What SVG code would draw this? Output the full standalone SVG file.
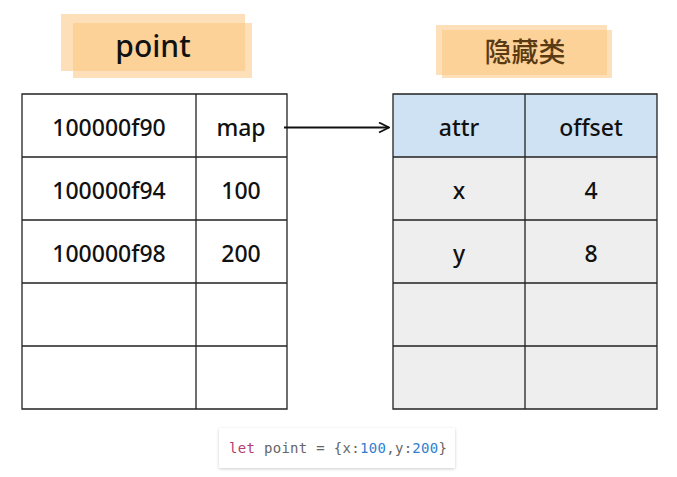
<svg xmlns="http://www.w3.org/2000/svg" width="677" height="477" viewBox="0 0 677 477">
<defs>
<style>
.t{font-family:"Noto Sans","DejaVu Sans",sans-serif;font-size:23px;font-weight:500;fill:#111;text-anchor:middle;dominant-baseline:central}
.g{stroke:#222;stroke-width:1.3;fill:none}
.hl{fill:#fbc77f;opacity:0.55}
.code{font-family:"DejaVu Sans Mono","Liberation Mono",monospace;font-size:14px}
</style>
<marker id="ah" viewBox="0 0 12 12" refX="11" refY="6" markerWidth="12" markerHeight="12" markerUnits="userSpaceOnUse" orient="auto">
<path d="M1,1 L11,6 L1,11" fill="none" stroke="#111" stroke-width="1.8"/>
</marker>
<filter id="sh" x="-10%" y="-20%" width="120%" height="150%">
<feDropShadow dx="0" dy="1" stdDeviation="1.5" flood-color="#000" flood-opacity="0.2"/>
</filter>
</defs>
<rect width="677" height="477" fill="#fff"/>
<g id="title-point">
<rect class="hl" x="61" y="14" width="184" height="57"/>
<rect class="hl" x="73" y="23" width="179" height="55"/>
<text class="t" x="153" y="45" style="font-size:30px">point</text>
</g>
<g id="title-hidden">
<rect class="hl" x="436" y="25" width="171" height="50"/>
<rect class="hl" x="442" y="30" width="170" height="48"/>
<text class="t" x="525" y="50" style="font-size:27px;fill:#5a3a12;font-family:'Noto Sans CJK SC',sans-serif">隐藏类</text>
</g>
<g id="point-table">
<rect x="22" y="94" width="265" height="315" fill="#fff"/>
<path class="g" d="M22,94H287V409H22Z M196,94V409 M22,157H287 M22,220H287 M22,283H287 M22,346H287"/>
<text class="t" x="109" y="127">100000f90</text>
<text class="t" x="241" y="127">map</text>
<text class="t" x="109" y="190">100000f94</text>
<text class="t" x="241" y="190">100</text>
<text class="t" x="109" y="253">100000f98</text>
<text class="t" x="241" y="253">200</text>
</g>
<g id="hidden-class-table">
<rect x="393" y="94" width="264" height="63" fill="#cfe2f3"/>
<rect x="393" y="157" width="264" height="252" fill="#eeeeee"/>
<path class="g" d="M393,94H657V409H393Z M525,94V409 M393,157H657 M393,220H657 M393,283H657 M393,346H657"/>
<text class="t" x="459" y="127">attr</text>
<text class="t" x="591" y="127">offset</text>
<text class="t" x="459" y="190">x</text>
<text class="t" x="591" y="190">4</text>
<text class="t" x="459" y="253">y</text>
<text class="t" x="591" y="253">8</text>
</g>
<g id="connectors">
<path d="M284,127.5 L389,127.5" stroke="#111" stroke-width="2" fill="none" marker-end="url(#ah)"/>
</g>
<g id="code">
<rect x="219" y="428" width="236" height="40" fill="#fff" filter="url(#sh)"/>
<text class="code" x="229" y="453" textLength="218" lengthAdjust="spacing"><tspan fill="#b5406e">let</tspan><tspan fill="#666"> point = {x:</tspan><tspan fill="#2f7fd0">100</tspan><tspan fill="#666">,y:</tspan><tspan fill="#2f7fd0">200</tspan><tspan fill="#666">}</tspan></text>
</g>
</svg>
